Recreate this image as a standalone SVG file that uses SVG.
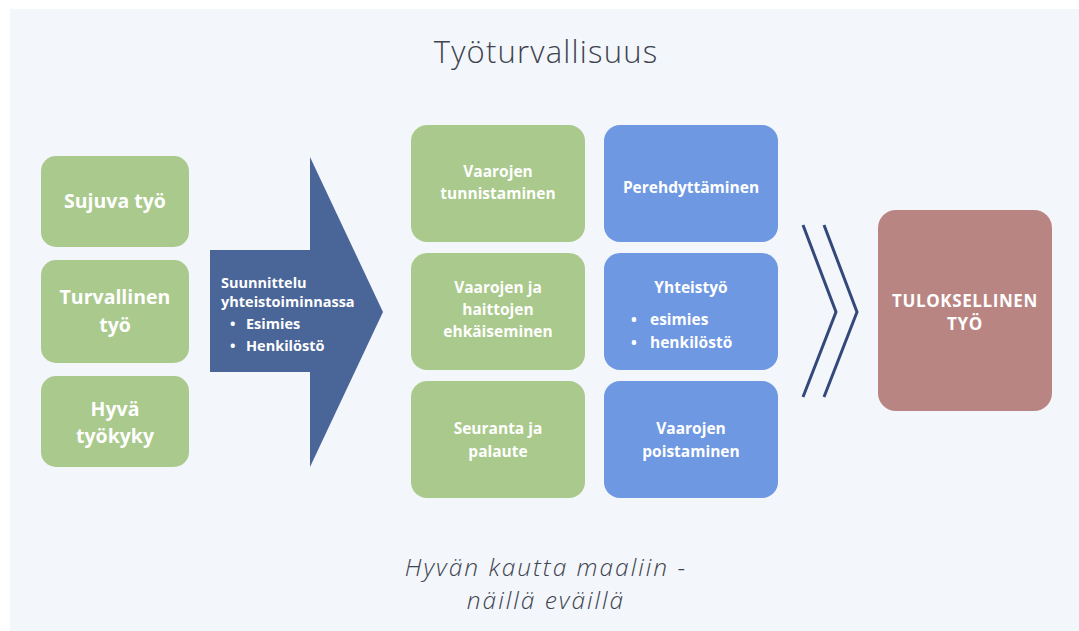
<svg xmlns="http://www.w3.org/2000/svg" width="1079" height="631" viewBox="0 0 1079 631">
<style>
.g{fill:#aac98c}
.b{fill:#6e98e2}
.t{font-family:"Open Sans",Lato,sans-serif;font-weight:bold;fill:#ffffff;text-anchor:middle}
.s{font-size:15.5px}
.l{font-size:19.5px}
.w{font-family:"Open Sans",Lato,sans-serif;font-weight:bold;fill:#ffffff}
</style>
<rect x="0" y="0" width="1079" height="631" fill="#ffffff"/>
<rect x="10" y="9" width="1069" height="622" fill="#f3f6fa"/>
<text x="546" y="63" font-family="'Open Sans',Lato,sans-serif" font-weight="300" font-size="31" letter-spacing="1.2" fill="#3e4450" text-anchor="middle">Työturvallisuus</text>

<g id="sujuva"><rect class="g" x="41" y="156" width="148" height="91" rx="15"/><text class="t l" x="115" y="208">Sujuva työ</text></g>
<g id="turvallinen"><rect class="g" x="41" y="260" width="148" height="103" rx="15"/><text class="t l" x="115" y="304">Turvallinen</text><text class="t l" x="115" y="332">työ</text></g>
<g id="hyva"><rect class="g" x="41" y="376" width="148" height="91" rx="15"/><text class="t l" x="115" y="416">Hyvä</text><text class="t l" x="115" y="443">työkyky</text></g>

<g id="suunnittelu">
<polygon points="210,250 310,250 310,157 383,312 310,467 310,372 210,372" fill="#4a6699"/>
<g class="w" font-size="14.5">
<text x="221" y="288">Suunnittelu</text>
<text x="221" y="307">yhteistoiminnassa</text>
<text x="230" y="329">•</text><text x="246" y="329">Esimies</text>
<text x="230" y="351">•</text><text x="246" y="351">Henkilöstö</text>
</g>
</g>

<g id="tunnistaminen"><rect class="g" x="411" y="125" width="174" height="117" rx="16"/><text class="t s" x="498" y="177">Vaarojen</text><text class="t s" x="498" y="199">tunnistaminen</text></g>
<g id="ehkaiseminen"><rect class="g" x="411" y="253" width="174" height="117" rx="16"/><text class="t s" x="498" y="293">Vaarojen ja</text><text class="t s" x="498" y="315">haittojen</text><text class="t s" x="498" y="337">ehkäiseminen</text></g>
<g id="seuranta"><rect class="g" x="411" y="381" width="174" height="117" rx="16"/><text class="t s" x="498" y="434">Seuranta ja</text><text class="t s" x="498" y="457">palaute</text></g>

<g id="perehdyttaminen"><rect class="b" x="604" y="125" width="174" height="117" rx="16"/><text class="t s" x="691" y="193">Perehdyttäminen</text></g>
<g id="yhteistyo"><rect class="b" x="604" y="253" width="174" height="117" rx="16"/><text class="t s" x="691" y="293">Yhteistyö</text>
<g class="w" font-size="15.5"><text x="631" y="325">•</text><text x="650" y="325">esimies</text><text x="631" y="348">•</text><text x="650" y="348">henkilöstö</text></g></g>
<g id="poistaminen"><rect class="b" x="604" y="381" width="174" height="117" rx="16"/><text class="t s" x="691" y="434">Vaarojen</text><text class="t s" x="691" y="457">poistaminen</text></g>

<g id="connectors" fill="none" stroke="#34497b" stroke-width="3">
<polyline points="803,225 836,312 803,397"/>
<polyline points="824,225 857,312 824,397"/>
</g>

<g id="tuloksellinen"><rect x="878" y="210" width="174" height="201" rx="18" fill="#b98583"/><text class="t" font-size="17" letter-spacing="0.6" x="965" y="307">TULOKSELLINEN</text><text class="t" font-size="17" letter-spacing="0.6" x="965" y="330">TYÖ</text></g>

<g font-family="'Open Sans',Lato,sans-serif" font-weight="300" font-style="italic" font-size="24.5" letter-spacing="2" fill="#3e4450" text-anchor="middle">
<text x="546" y="576">Hyvän kautta maaliin -</text>
<text x="546" y="609">näillä eväillä</text>
</g>
</svg>
